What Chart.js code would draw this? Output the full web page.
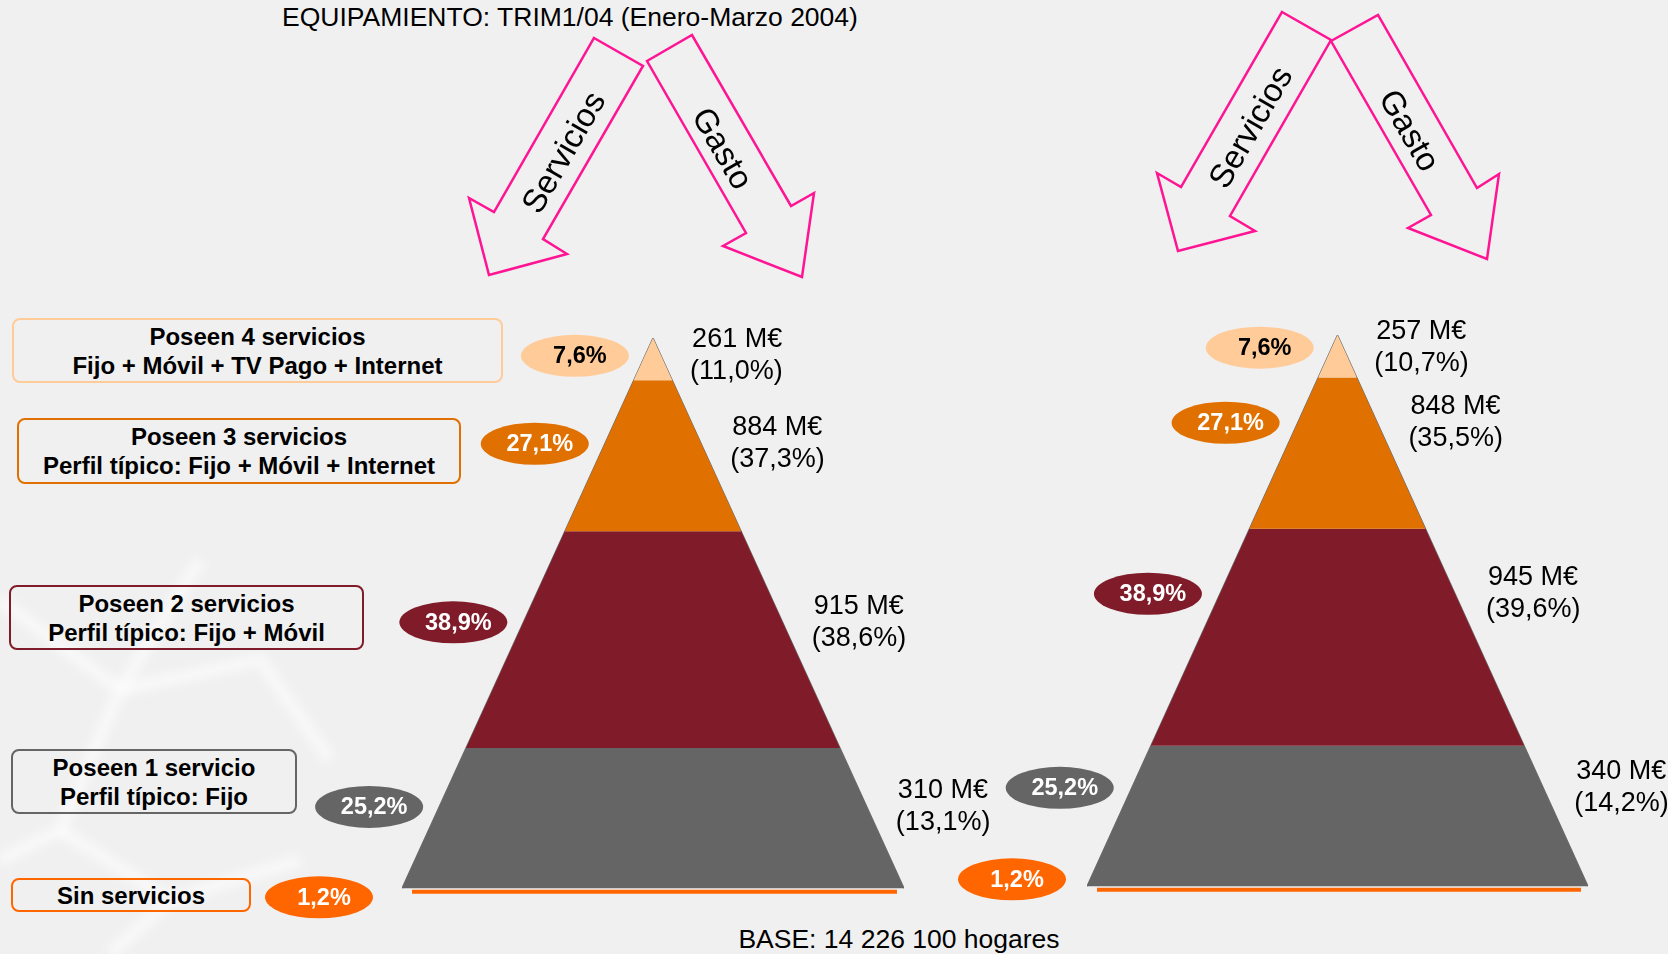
<!DOCTYPE html>
<html lang="es">

<head>
  <meta charset="UTF-8">
  <title>Equipamiento TRIM1/04</title>
  <style>
    html, body { margin: 0; padding: 0; }
    body {
      width: 1668px; height: 954px; overflow: hidden;
      background: #f0f0f0;
      font-family: Arial, "Liberation Sans", sans-serif;
      position: relative;
    }
    .titulo, .base { position: absolute; font-size: 26.5px; color: #000; white-space: nowrap; transform: translate(-50%, -50%); }
    .caja {
      position: absolute; box-sizing: border-box;
      border: 2px solid #999; border-radius: 8px;
      display: flex; flex-direction: column; justify-content: center; align-items: center;
      font-weight: bold; font-size: 24px; line-height: 29px; color: #000; white-space: nowrap;
    }
    .lienzo { position: absolute; }
    svg { position: absolute; left: 0; top: 0; }
  </style>
</head>

<body>
  <!-- fondo con trama suave -->
  <svg width="1668" height="954">
    <defs><filter id="difuso"><feGaussianBlur stdDeviation="4" /></filter></defs>
    <g stroke="#ffffff" stroke-opacity="0.5" stroke-width="14" fill="none" filter="url(#difuso)">
      <path d="M0,600 L120,690 L60,830 L0,860" />
      <path d="M120,690 L260,660 L330,760" />
      <path d="M60,830 L170,900 L110,954" />
      <path d="M170,900 L300,860" />
      <path d="M200,560 L120,690" />
    </g>
  </svg>

  <div class="titulo" style="left:570px; top:17px">EQUIPAMIENTO: TRIM1/04 (Enero-Marzo 2004)</div>
  <div class="base" style="left:899px; top:939px">BASE: 14 226 100 hogares</div>

  <div id="cajas"></div>

  <div class="lienzo" style="left:250px; top:300px"><canvas id="piramideIzq" width="760" height="640"></canvas></div>
  <div class="lienzo" style="left:930px; top:297px"><canvas id="piramideDer" width="738" height="643"></canvas></div>

  <!-- flechas Servicios / Gasto -->
  <svg width="1668" height="954">
    <g fill="none" stroke="#ff1493" stroke-width="2.5" stroke-linejoin="miter">
      <polygon points="594,38 643,66 543,239 567,254 489,275 469,198 494,212" />
      <polygon points="647,61 692,35 791,206 814,193 802,277 723,246 746,233" />
      <polygon points="1282,12 1331,40 1230,216 1255,231 1178,251 1157,173 1181,187" />
      <polygon points="1331,41 1378,15 1477,188 1499,174 1487,259 1408,228 1431,215" />
    </g>
    <g font-family="Arial, 'Liberation Sans', sans-serif" font-size="33" fill="#000" text-anchor="middle" dominant-baseline="central">
      <text transform="translate(563,152) rotate(-60)">Servicios</text>
      <text transform="translate(723,148) rotate(60)">Gasto</text>
      <text transform="translate(1250,127) rotate(-60)">Servicios</text>
      <text transform="translate(1410,130) rotate(60)">Gasto</text>
    </g>
  </svg>

  <script src="https://cdn.jsdelivr.net/npm/chart.js"></script>

  <script>
    // Datos
    const categorias = ['Poseen 4 servicios', 'Poseen 3 servicios', 'Poseen 2 servicios', 'Poseen 1 servicio', 'Sin servicios'];
    const perfiles = ['Fijo + Móvil + TV Pago + Internet', 'Perfil típico: Fijo + Móvil + Internet', 'Perfil típico: Fijo + Móvil', 'Perfil típico: Fijo', ''];
    const hogares = [7.6, 27.1, 38.9, 25.2, 1.2];          // % de hogares
    const gastoIzq = [261, 884, 915, 310];                 // M€
    const pctGastoIzq = [11.0, 37.3, 38.6, 13.1];
    const gastoDer = [257, 848, 945, 340];
    const pctGastoDer = [10.7, 35.5, 39.6, 14.2];

    // Estilos
    const colores = ['#ffcc99', '#e07000', '#801c2a', '#656565', '#ff6600'];
    const coloresTexto = ['#000', '#fff', '#fff', '#fff', '#fff'];
    const cajasPos = [
      {left: 12, top: 318, width: 491, height: 65},
      {left: 17, top: 418, width: 444, height: 66},
      {left: 9, top: 585, width: 355, height: 65},
      {left: 11, top: 749, width: 286, height: 65},
      {left: 11, top: 878, width: 240, height: 34}
    ];

    const fmt = v => v.toFixed(1).replace('.', ',') + '%';

    // Cajas de la izquierda
    const contenedor = document.getElementById('cajas');
    categorias.forEach((c, i) => {
      const d = document.createElement('div');
      d.className = 'caja';
      const p = cajasPos[i];
      d.style.left = p.left + 'px'; d.style.top = p.top + 'px';
      d.style.width = p.width + 'px'; d.style.height = p.height + 'px';
      d.style.borderColor = colores[i];
      d.innerHTML = '<div>' + c + '</div>' + (perfiles[i] ? '<div>' + perfiles[i] + '</div>' : '');
      contenedor.appendChild(d);
    });

    // Pirámide: y = % acumulado de hogares desde el vértice, x = ancho relativo
    const alturaPiramide = hogares.slice(0, 4).reduce((a, b) => a + b, 0);
    const semiAncho = d => 50 * Math.min(d, alturaPiramide) / alturaPiramide;

    function datasetsPiramide() {
      const sets = [];
      let acum = 0;
      for (let i = 0; i < 4; i++) {
        const t = acum, b = acum + hogares[i];
        sets.push({
          label: categorias[i],
          data: [
            {x: -semiAncho(t), y: t}, {x: semiAncho(t), y: t},
            {x: semiAncho(b), y: b}, {x: -semiAncho(b), y: b}, {x: -semiAncho(t), y: t}
          ],
          backgroundColor: colores[i],
          borderWidth: 0,
          pointRadius: 0,
          fill: 'shape'
        });
        acum = b;
      }
      // contorno
      sets.push({
        label: 'contorno',
        data: [{x: -50, y: alturaPiramide}, {x: 0, y: 0}, {x: 50, y: alturaPiramide}],
        borderColor: 'rgba(60,60,60,0.75)',
        borderWidth: 1.2,
        pointRadius: 0,
        fill: false
      });
      // Sin servicios: franja bajo la base
      const ySin = alturaPiramide + hogares[4] / 2;
      sets.push({
        label: categorias[4],
        data: [{x: -48, y: ySin}, {x: 48.6, y: ySin}],
        borderColor: colores[4],
        borderWidth: 4,
        pointRadius: 0,
        fill: false
      });
      return sets;
    }

    const etiquetas = {
      id: 'etiquetas',
      afterDatasetsDraw(chart, args, opts) {
        const {ctx, scales: {x, y}} = chart;
        ctx.save();
        let acum = 0;
        hogares.forEach((h, i) => {
          let cy, cx;
          if (i < 4) {
            const d = acum + h * opts.ancla;
            cy = y.getPixelForValue(d);
            cx = x.getPixelForValue(-semiAncho(d)) - opts.sepElipse;
            // gasto a la derecha
            const tx = x.getPixelForValue(semiAncho(d)) + opts.sepTexto;
            ctx.fillStyle = '#000';
            ctx.font = '27px Arial, "Liberation Sans", sans-serif';
            ctx.textAlign = 'left';
            ctx.textBaseline = 'middle';
            ctx.fillText(opts.gasto[i] + ' M€', tx + 2, cy - 16);
            ctx.fillText('(' + fmt(opts.pct[i]) + ')', tx, cy + 16);
          } else {
            cy = y.getPixelForValue(alturaPiramide) + opts.dySin;
            cx = x.getPixelForValue(-50) - opts.sepSin;
          }
          ctx.beginPath();
          ctx.ellipse(cx, cy, 54, 21, 0, 0, Math.PI * 2);
          ctx.fillStyle = colores[i];
          ctx.fill();
          ctx.fillStyle = coloresTexto[i];
          ctx.font = 'bold 23.5px Arial, "Liberation Sans", sans-serif';
          ctx.textAlign = 'center';
          ctx.textBaseline = 'middle';
          ctx.fillText(fmt(h), cx + 5, cy + 1);
          acum += h;
        });
        ctx.restore();
      }
    };

    function crearPiramide(id, padding, opcionesEtiquetas) {
      return new Chart(document.getElementById(id), {
        type: 'line',
        data: {datasets: datasetsPiramide()},
        plugins: [etiquetas],
        options: {
          responsive: false,
          animation: false,
          layout: {padding: padding},
          elements: {line: {tension: 0}},
          scales: {
            x: {type: 'linear', min: -50, max: 50, display: false},
            y: {type: 'linear', min: 0, max: 100, reverse: true, display: false}
          },
          plugins: {
            legend: {display: false},
            tooltip: {enabled: false},
            etiquetas: opcionesEtiquetas
          }
        }
      });
    }

    crearPiramide('piramideIzq', {left: 152, right: 106, top: 38, bottom: 45},
      {gasto: gastoIzq, pct: pctGastoIzq, ancla: 0.42, sepElipse: 70, sepTexto: 29, sepSin: 83, dySin: 9});
    crearPiramide('piramideDer', {left: 157, right: 80, top: 38, bottom: 47},
      {gasto: gastoDer, pct: pctGastoDer, ancla: 0.3, sepElipse: 72, sepTexto: 31, sepSin: 75, dySin: -7});
  </script>
</body>

</html>
